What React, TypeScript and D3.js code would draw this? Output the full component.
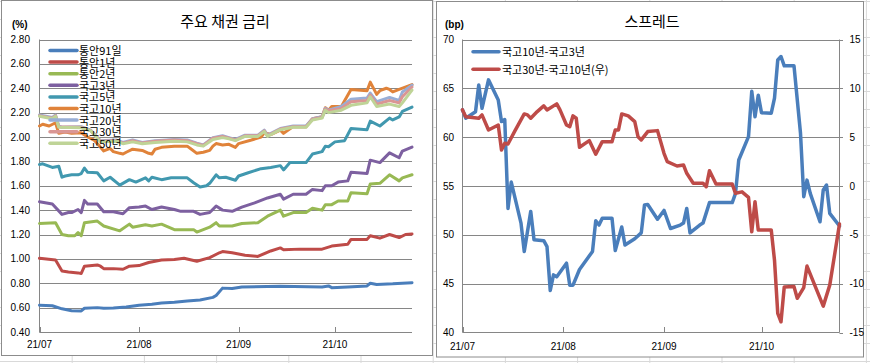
import React from 'react';
import * as d3 from 'd3';

type Pt = [string, number];

// ---------- Left chart: 주요 채권 금리 (%) ----------
const leftSeriesNames = ['통안91일', '통안1년', '통안2년', '국고3년', '국고5년', '국고10년', '국고20년', '국고30년', '국고50년'];
const leftColors = ['#4A7EBB', '#BE4B48', '#98B954', '#7D60A0', '#4198AF', '#E0833A', '#98AED6', '#DA9694', '#BFD497'];

const m91: Pt[] = [
  ['07-01', 0.62], ['07-05', 0.615], ['07-08', 0.59], ['07-11', 0.575], ['07-14', 0.573], ['07-15', 0.595],
  ['07-19', 0.6], ['07-21', 0.595], ['07-24', 0.597], ['07-28', 0.605], ['08-01', 0.62], ['08-05', 0.628],
  ['08-08', 0.638], ['08-12', 0.645], ['08-16', 0.655], ['08-20', 0.663], ['08-24', 0.684], ['08-25', 0.7],
  ['08-27', 0.76], ['08-30', 0.757], ['09-02', 0.77], ['09-14', 0.775], ['09-27', 0.77], ['09-29', 0.778],
  ['09-30', 0.764], ['10-05', 0.77], ['10-11', 0.778], ['10-12', 0.8], ['10-14', 0.79], ['10-19', 0.795], ['10-25', 0.805],
];
const m1y: Pt[] = [
  ['07-01', 1.005], ['07-06', 0.99], ['07-08', 0.9], ['07-10', 0.892], ['07-13', 0.885], ['07-14', 0.88],
  ['07-15', 0.94], ['07-19', 0.95], ['07-20', 0.94], ['07-21', 0.92], ['07-24', 0.92], ['07-27', 0.915],
  ['07-29', 0.94], ['08-01', 0.945], ['08-04', 0.97], ['08-08', 0.99], ['08-12', 0.995], ['08-15', 1.005],
  ['08-19', 0.98], ['08-23', 1.01], ['08-26', 1.05], ['08-27', 1.06], ['08-30', 1.05], ['09-03', 1.03],
  ['09-07', 1.02], ['09-11', 1.065], ['09-14', 1.09], ['09-15', 1.075], ['09-20', 1.08], ['09-27', 1.08],
  ['09-30', 1.105], ['10-05', 1.12], ['10-06', 1.16], ['10-11', 1.16], ['10-12', 1.19], ['10-15', 1.17],
  ['10-18', 1.2], ['10-21', 1.175], ['10-23', 1.2], ['10-25', 1.205],
];
const m2y: Pt[] = [
  ['07-01', 1.29], ['07-06', 1.297], ['07-08', 1.2], ['07-10', 1.19], ['07-12', 1.19], ['07-13', 1.215],
  ['07-14', 1.19], ['07-15', 1.297], ['07-19', 1.31], ['07-21', 1.27], ['07-26', 1.23], ['07-29', 1.285],
  ['07-30', 1.26], ['08-03', 1.28], ['08-05', 1.27], ['08-08', 1.285], ['08-12', 1.24], ['08-18', 1.24],
  ['08-19', 1.22], ['08-23', 1.26], ['08-25', 1.297], ['08-26', 1.27], ['08-30', 1.27], ['09-02', 1.29],
  ['09-07', 1.297], ['09-10', 1.35], ['09-14', 1.4], ['09-15', 1.35], ['09-18', 1.38], ['09-22', 1.38],
  ['09-24', 1.415], ['09-27', 1.4], ['09-28', 1.445], ['09-30', 1.445], ['10-02', 1.475], ['10-05', 1.475],
  ['10-06', 1.543], ['10-11', 1.535], ['10-12', 1.615], ['10-15', 1.62], ['10-18', 1.69], ['10-21', 1.64],
  ['10-22', 1.665], ['10-25', 1.69],
];
const k3y: Pt[] = [
  ['07-01', 1.469], ['07-05', 1.45], ['07-08', 1.365], ['07-10', 1.38], ['07-11', 1.38], ['07-13', 1.405],
  ['07-14', 1.38], ['07-15', 1.48], ['07-16', 1.45], ['07-19', 1.45], ['07-21', 1.387], ['07-24', 1.387],
  ['07-27', 1.37], ['07-29', 1.42], ['08-01', 1.425], ['08-03', 1.433], ['08-05', 1.405], ['08-08', 1.425],
  ['08-12', 1.405], ['08-14', 1.39], ['08-18', 1.39], ['08-20', 1.365], ['08-23', 1.38], ['08-25', 1.433],
  ['08-27', 1.4], ['08-30', 1.39], ['09-02', 1.425], ['09-06', 1.46], ['09-10', 1.5], ['09-14', 1.53],
  ['09-15', 1.49], ['09-18', 1.53], ['09-22', 1.53], ['09-24', 1.57], ['09-27', 1.56], ['09-28', 1.6],
  ['09-30', 1.6], ['10-02', 1.63], ['10-05', 1.64], ['10-06', 1.71], ['10-11', 1.7], ['10-12', 1.81],
  ['10-15', 1.79], ['10-18', 1.87], ['10-21', 1.83], ['10-22', 1.885], ['10-25', 1.917],
];
const k5y: Pt[] = [
  ['07-01', 1.775], ['07-02', 1.78], ['07-05', 1.75], ['07-07', 1.76], ['07-08', 1.67], ['07-09', 1.68],
  ['07-11', 1.69], ['07-13', 1.69], ['07-14', 1.7], ['07-15', 1.745], ['07-16', 1.71], ['07-19', 1.707],
  ['07-21', 1.64], ['07-23', 1.67], ['07-26', 1.605], ['07-29', 1.65], ['07-31', 1.63], ['08-03', 1.665],
  ['08-04', 1.64], ['08-05', 1.67], ['08-08', 1.65], ['08-11', 1.665], ['08-16', 1.665], ['08-18', 1.625],
  ['08-20', 1.59], ['08-22', 1.6], ['08-23', 1.62], ['08-25', 1.69], ['08-26', 1.665], ['08-28', 1.67],
  ['08-31', 1.645], ['09-01', 1.68], ['09-04', 1.707], ['09-08', 1.74], ['09-11', 1.75], ['09-14', 1.765],
  ['09-15', 1.73], ['09-17', 1.79], ['09-22', 1.79], ['09-24', 1.86], ['09-27', 1.88], ['09-28', 1.925],
  ['09-29', 1.92], ['10-01', 1.96], ['10-04', 1.97], ['10-06', 2.07], ['10-11', 2.06], ['10-12', 2.13],
  ['10-15', 2.09], ['10-18', 2.155], ['10-19', 2.14], ['10-21', 2.165], ['10-22', 2.21], ['10-25', 2.245],
];
const k10y: Pt[] = [
  ['07-01', 2.09], ['07-02', 2.105], ['07-04', 2.09], ['07-06', 2.117], ['07-07', 2.03], ['07-09', 2.04],
  ['07-11', 2.03], ['07-14', 2.035], ['07-16', 2.0], ['07-18', 1.975], ['07-20', 1.915], ['07-21', 1.886],
  ['07-23', 1.906], ['07-24', 1.88], ['07-26', 1.866], ['07-27', 1.86], ['07-28', 1.875], ['07-30', 1.9],
  ['08-02', 1.89], ['08-04', 1.866], ['08-05', 1.86], ['08-06', 1.9], ['08-08', 1.915], ['08-12', 1.925],
  ['08-16', 1.925], ['08-17', 1.906], ['08-19', 1.866], ['08-21', 1.875], ['08-23', 1.89], ['08-24', 1.925],
  ['08-25', 1.946], ['08-27', 1.935], ['08-29', 1.94], ['08-31', 1.915], ['09-01', 1.946], ['09-05', 1.975],
  ['09-08', 2.0], ['09-09', 2.035], ['09-11', 2.02], ['09-14', 2.056], ['09-15', 2.03], ['09-18', 2.085],
  ['09-22', 2.085], ['09-24', 2.15], ['09-27', 2.166], ['09-28', 2.24], ['09-29', 2.22], ['09-30', 2.25],
  ['10-03', 2.25], ['10-06', 2.39], ['10-11', 2.38], ['10-12', 2.45], ['10-14', 2.35], ['10-15', 2.38],
  ['10-17', 2.4], ['10-18', 2.39], ['10-19', 2.37], ['10-21', 2.39], ['10-25', 2.43],
];
const k20y: Pt[] = [
  ['07-01', 2.18], ['07-05', 2.16], ['07-06', 2.18], ['07-07', 2.09], ['07-08', 2.08], ['07-14', 2.085],
  ['07-17', 2.056], ['07-20', 1.97], ['07-25', 1.975], ['07-27', 1.955], ['07-30', 1.975], ['08-02', 1.955],
  ['08-06', 1.97], ['08-12', 1.98], ['08-16', 1.975], ['08-19', 1.95], ['08-21', 1.935], ['08-24', 1.995],
  ['08-27', 2.01], ['08-29', 1.995], ['08-31', 1.98], ['09-03', 2.015], ['09-07', 2.015], ['09-09', 2.056],
  ['09-10', 2.015], ['09-14', 2.07], ['09-18', 2.09], ['09-22', 2.09], ['09-24', 2.15], ['09-27', 2.166],
  ['09-28', 2.235], ['09-29', 2.22], ['10-03', 2.25], ['10-06', 2.31], ['10-11', 2.32], ['10-12', 2.36],
  ['10-14', 2.29], ['10-18', 2.325], ['10-21', 2.3], ['10-22', 2.37], ['10-25', 2.425],
];
const k30y: Pt[] = [
  ['07-01', 2.175], ['07-05', 2.155], ['07-06', 2.175], ['07-07', 2.085], ['07-14', 2.08], ['07-17', 2.05],
  ['07-20', 1.965], ['07-25', 1.97], ['07-27', 1.95], ['07-30', 1.97], ['08-02', 1.95], ['08-06', 1.965],
  ['08-12', 1.975], ['08-16', 1.97], ['08-19', 1.945], ['08-21', 1.93], ['08-24', 1.99], ['08-27', 2.005],
  ['08-29', 1.99], ['08-31', 1.975], ['09-03', 2.01], ['09-07', 2.01], ['09-09', 2.05], ['09-10', 2.01],
  ['09-14', 2.065], ['09-18', 2.085], ['09-22', 2.085], ['09-24', 2.145], ['09-27', 2.16], ['09-28', 2.23],
  ['09-29', 2.215], ['10-03', 2.235], ['10-06', 2.29], ['10-11', 2.3], ['10-12', 2.345], ['10-14', 2.27],
  ['10-18', 2.3], ['10-21', 2.28], ['10-22', 2.33], ['10-25', 2.41],
];
const k50y: Pt[] = [
  ['07-01', 2.17], ['07-05', 2.15], ['07-06', 2.17], ['07-07', 2.08], ['07-14', 2.075], ['07-17', 2.05],
  ['07-20', 1.96], ['07-25', 1.965], ['07-27', 1.945], ['07-30', 1.96], ['08-02', 1.945], ['08-06', 1.955],
  ['08-12', 1.965], ['08-16', 1.96], ['08-19', 1.935], ['08-21', 1.925], ['08-24', 1.98], ['08-27', 1.995],
  ['08-29', 1.985], ['08-31', 1.97], ['09-03', 2.005], ['09-07', 2.005], ['09-09', 2.045], ['09-10', 2.005],
  ['09-14', 2.06], ['09-18', 2.08], ['09-22', 2.08], ['09-24', 2.14], ['09-27', 2.155], ['09-28', 2.22],
  ['09-29', 2.2], ['10-03', 2.22], ['10-06', 2.26], ['10-11', 2.28], ['10-12', 2.33], ['10-14', 2.25],
  ['10-18', 2.27], ['10-21', 2.25], ['10-22', 2.28], ['10-25', 2.385],
];
const leftSeries: Pt[][] = [m91, m1y, m2y, k3y, k5y, k10y, k20y, k30y, k50y];
const leftYTicks = [0.4, 0.6, 0.8, 1.0, 1.2, 1.4, 1.6, 1.8, 2.0, 2.2, 2.4, 2.6, 2.8];

// ---------- Right chart: 스프레드 (bp) ----------
const rightSeriesNames = ['국고10년-국고3년', '국고30년-국고10년(우)'];
const rightColors = ['#4A7EBB', '#BE4B48'];
const spread10_3: Pt[] = [
  ['07-01', 62.8], ['07-02', 61.94], ['07-05', 62.6], ['07-06', 65.35], ['07-07', 62.96], ['07-09', 65.87],
  ['07-12', 63.8], ['07-13', 61.6], ['07-14', 61.8], ['07-15', 52.7], ['07-16', 55.4], ['07-19', 51.2],
  ['07-20', 48.3], ['07-22', 52.4], ['07-23', 49.5], ['07-26', 49.4], ['07-27', 48.8], ['07-28', 44.3],
  ['07-29', 45.9], ['07-30', 45.7], ['08-02', 47.1], ['08-03', 44.85], ['08-04', 44.85], ['08-06', 46.45],
  ['08-10', 48.3], ['08-11', 51.45], ['08-12', 51.0], ['08-13', 51.7], ['08-16', 51.7], ['08-17', 48.4],
  ['08-19', 50.8], ['08-20', 48.95], ['08-23', 49.6], ['08-25', 50.2], ['08-26', 53.05], ['08-27', 53.1],
  ['08-30', 51.6], ['09-01', 52.5], ['09-03', 50.65], ['09-06', 51.0], ['09-07', 51.2], ['09-08', 52.7],
  ['09-09', 50.2], ['09-12', 51.0], ['09-13', 51.2], ['09-15', 53.3], ['09-22', 53.3], ['09-23', 54.25],
  ['09-24', 57.66], ['09-27', 60.05], ['09-28', 64.7], ['09-29', 62.1], ['09-30', 64.3], ['10-01', 62.5],
  ['10-04', 62.45], ['10-05', 64.0], ['10-06', 67.9], ['10-07', 68.26], ['10-08', 67.3], ['10-11', 67.3],
  ['10-13', 60.4], ['10-14', 53.9], ['10-15', 55.6], ['10-16', 54.25], ['10-19', 51.34], ['10-20', 54.6],
  ['10-21', 55.1], ['10-22', 52.2], ['10-25', 50.9],
];
const spread30_10: Pt[] = [
  ['07-01', 7.79], ['07-02', 7.1], ['07-06', 6.94], ['07-07', 7.28], ['07-09', 5.74], ['07-12', 6.25],
  ['07-13', 3.69], ['07-14', 4.38], ['07-15', 4.3], ['07-17', 5.57], ['07-20', 7.38], ['07-21', 7.28],
  ['07-22', 6.94], ['07-24', 7.62], ['07-26', 8.2], ['07-27', 7.79], ['07-30', 8.41], ['07-31', 7.79],
  ['08-02', 6.25], ['08-03', 6.08], ['08-04', 7.18], ['08-05', 6.94], ['08-06', 3.97], ['08-09', 4.65],
  ['08-11', 3.25], ['08-13', 4.54], ['08-16', 4.54], ['08-17', 5.74], ['08-18', 5.74], ['08-19', 7.38],
  ['08-21', 7.18], ['08-23', 6.59], ['08-24', 5.05], ['08-25', 4.72], ['08-27', 5.57], ['08-30', 5.67],
  ['09-01', 3.35], ['09-02', 2.49], ['09-05', 2.05], ['09-07', 2.15], ['09-08', 1.3], ['09-10', 0.28],
  ['09-13', 0.28], ['09-14', -0.07], ['09-15', 1.57], ['09-17', 0.2], ['09-22', 0.2], ['09-23', -0.75],
  ['09-25', -0.6], ['09-27', -1.16], ['09-28', -4.69], ['09-29', -1.61], ['09-30', -4.5], ['10-04', -4.5],
  ['10-05', -7.6], ['10-06', -13.05], ['10-07', -13.9], ['10-08', -10.33], ['10-11', -10.3], ['10-12', -11.5],
  ['10-14', -10.4], ['10-15', -8.2], ['10-20', -12.3], ['10-22', -10.15], ['10-25', -3.9],
];
const rightLeftTicks = [40, 45, 50, 55, 60, 65, 70];
const rightRightTicks = [-15, -10, -5, 0, 5, 10, 15];

const monthTicks = ['07-01', '08-01', '09-01', '10-01'];
const monthLabels = ['21/07', '21/08', '21/09', '21/10'];
const dateStart = '07-01';
const dateEnd = '10-25';

const parse = d3.timeParse('%Y-%m-%d');
const toDate = (s: string) => parse('2021-' + s) as Date;

const GRID = '#868686';
const NUM_FONT = '"Liberation Sans", Arial, sans-serif';
const KR_FONT = '"Noto Sans CJK KR", "Noto Sans", sans-serif';

function ExcelBackground() {
  const cols = d3.range(1, 13).map((i) => i * 72.2);
  const rows = d3.range(0, 21).map((i) => 361.5 - i * 18);
  return (
    <g>
      <rect x={0} y={0} width={870} height={363} fill="#ffffff" />
      {cols.map((c, i) => (
        <line key={'c' + i} x1={c} x2={c} y1={0} y2={363} stroke="#d9d9d9" strokeWidth={1} />
      ))}
      {rows.map((r, i) => (
        <line key={'r' + i} x1={0} x2={870} y1={r} y2={r} stroke="#d9d9d9" strokeWidth={1} />
      ))}
    </g>
  );
}

function LeftChart() {
  const x = d3.scaleTime().domain([toDate(dateStart), toDate(dateEnd)]).range([39.5, 412]);
  const y = d3.scaleLinear().domain([0.4, 2.8]).range([332, 39.5]);
  const line = d3
    .line<Pt>()
    .x((d) => x(toDate(d[0])))
    .y((d) => y(d[1]));
  const fmt = d3.format('.2f');
  return (
    <g>
      <rect x={1.5} y={0.5} width={431} height={355} fill="#fff" stroke="#8c8c8c" strokeWidth={1} />
      <text x={225} y={27} textAnchor="middle" fontFamily={KR_FONT} fontSize={15} fill="#000">
        주요 채권 금리
      </text>
      <text x={12} y={28} fontFamily={NUM_FONT} fontSize={10} fontWeight="bold" fill="#000">
        (%)
      </text>
      {leftYTicks.map((t) => (
        <g key={t}>
          {t > 0.4 && (
            <line x1={39.5} x2={412} y1={Math.round(y(t)) + 0.5} y2={Math.round(y(t)) + 0.5} stroke={GRID} strokeWidth={1} />
          )}
          <text x={30} y={y(t)} dy="0.35em" textAnchor="end" fontFamily={NUM_FONT} fontSize={10} fill="#000">
            {fmt(t)}
          </text>
        </g>
      ))}
      <line x1={39.5} x2={39.5} y1={39.5} y2={332.5} stroke={GRID} strokeWidth={1} />
      <line x1={39.5} x2={412} y1={332.5} y2={332.5} stroke={GRID} strokeWidth={1} />
      {monthTicks.map((m, i) => (
        <g key={m}>
          <line x1={Math.round(x(toDate(m))) + 0.5} x2={Math.round(x(toDate(m))) + 0.5} y1={327} y2={332} stroke={GRID} strokeWidth={1} />
          <text x={x(toDate(m))} y={348} textAnchor="middle" fontFamily={NUM_FONT} fontSize={10} fill="#000">
            {monthLabels[i]}
          </text>
        </g>
      ))}
      {leftSeries.map((s, i) => (
        <path
          key={leftSeriesNames[i]}
          d={line(s) || ''}
          fill="none"
          stroke={leftColors[i]}
          strokeWidth={3}
          strokeLinejoin="round"
          strokeLinecap="round"
        />
      ))}
      {leftSeriesNames.map((n, i) => {
        const ly = 50.5 + i * 11.6;
        return (
          <g key={n}>
            <line x1={50} x2={77} y1={ly} y2={ly} stroke={leftColors[i]} strokeWidth={3.5} strokeLinecap="round" />
            <text x={79} y={ly + 4.5} fontFamily={KR_FONT} fontSize={11} fill="#000">
              {n}
            </text>
          </g>
        );
      })}
    </g>
  );
}

function RightChart() {
  const x = d3.scaleTime().domain([toDate(dateStart), toDate(dateEnd)]).range([462.5, 839.5]);
  const yL = d3.scaleLinear().domain([40, 70]).range([332.5, 39.5]);
  const yR = d3.scaleLinear().domain([-15, 15]).range([332.5, 39.5]);
  const lineL = d3
    .line<Pt>()
    .x((d) => x(toDate(d[0])))
    .y((d) => yL(d[1]));
  const lineR = d3
    .line<Pt>()
    .x((d) => x(toDate(d[0])))
    .y((d) => yR(d[1]));
  return (
    <g>
      <rect x={436.5} y={1.5} width={427} height={355.5} fill="#fff" stroke="#8c8c8c" strokeWidth={1} />
      <text x={652} y={27} textAnchor="middle" fontFamily={KR_FONT} fontSize={15} fill="#000">
        스프레드
      </text>
      <text x={445} y={28} fontFamily={NUM_FONT} fontSize={10} fontWeight="bold" fill="#000">
        (bp)
      </text>
      {rightLeftTicks.map((t) => (
        <g key={t}>
          {t > 40 && (
            <line x1={462.5} x2={839.5} y1={Math.round(yL(t)) + 0.5} y2={Math.round(yL(t)) + 0.5} stroke={GRID} strokeWidth={1} />
          )}
          <text x={454} y={yL(t)} dy="0.35em" textAnchor="end" fontFamily={NUM_FONT} fontSize={10} fill="#000">
            {t}
          </text>
        </g>
      ))}
      {rightRightTicks.map((t) => (
        <g key={t}>
          <line x1={839.5} x2={843} y1={Math.round(yR(t)) + 0.5} y2={Math.round(yR(t)) + 0.5} stroke={GRID} strokeWidth={1} />
          <text x={849.5} y={yR(t)} dy="0.35em" textAnchor="start" fontFamily={NUM_FONT} fontSize={10} fill="#000">
            {t}
          </text>
        </g>
      ))}
      <line x1={462.5} x2={462.5} y1={39.5} y2={332.5} stroke={GRID} strokeWidth={1} />
      <line x1={839.5} x2={839.5} y1={39.5} y2={332.5} stroke={GRID} strokeWidth={1} />
      <line x1={462.5} x2={839.5} y1={332.5} y2={332.5} stroke={GRID} strokeWidth={1} />
      {monthTicks.map((m, i) => (
        <g key={m}>
          <line x1={Math.round(x(toDate(m))) + 0.5} x2={Math.round(x(toDate(m))) + 0.5} y1={327} y2={332} stroke={GRID} strokeWidth={1} />
          <text x={x(toDate(m))} y={350} textAnchor="middle" fontFamily={NUM_FONT} fontSize={10} fill="#000">
            {monthLabels[i]}
          </text>
        </g>
      ))}
      <path d={lineL(spread10_3) || ''} fill="none" stroke={rightColors[0]} strokeWidth={3.5} strokeLinejoin="round" strokeLinecap="round" />
      <path d={lineR(spread30_10) || ''} fill="none" stroke={rightColors[1]} strokeWidth={3.5} strokeLinejoin="round" strokeLinecap="round" />
      {rightSeriesNames.map((n, i) => {
        const ly = 51.7 + i * 17.6;
        return (
          <g key={n}>
            <line x1={473} x2={499} y1={ly} y2={ly} stroke={rightColors[i]} strokeWidth={3.5} strokeLinecap="round" />
            <text x={502} y={ly + 4.5} fontFamily={KR_FONT} fontSize={11} fill="#000">
              {n}
            </text>
          </g>
        );
      })}
    </g>
  );
}

export default function App() {
  return (
    <svg
      width={870}
      height={363}
      viewBox="0 0 870 363"
      style={{ position: 'absolute', left: 0, top: 0, display: 'block' }}
    >
      <ExcelBackground />
      <LeftChart />
      <RightChart />
    </svg>
  );
}
